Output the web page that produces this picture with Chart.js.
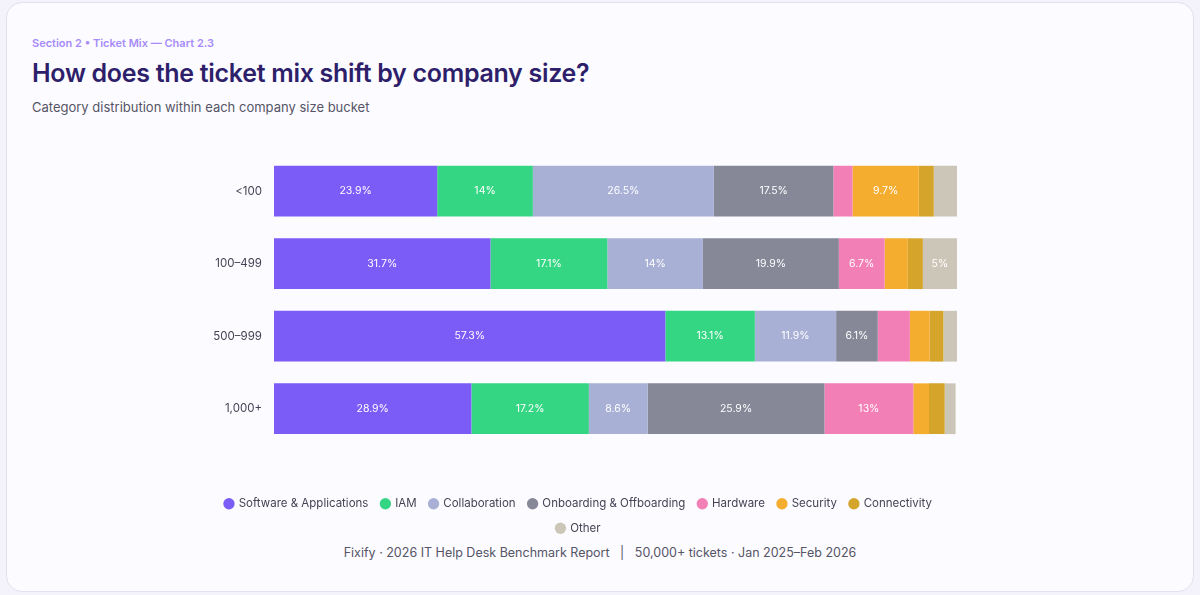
<!DOCTYPE html>
<html>
<head>
<meta charset="utf-8">
<script src="https://cdn.jsdelivr.net/npm/chart.js@4.4.1/dist/chart.umd.min.js"></script>
<style>
  body { margin: 0; background: #f4f2fa; font-family: Inter, "Noto Sans", sans-serif; }
  .card { position: absolute; left: 6px; top: 2px; width: 1186px; height: 588px; background: #fcfbff; border: 1px solid #e4e0f0; border-radius: 16px; }
  .kicker { position: absolute; left: 32px; top: 36px; font-size: 11px; font-weight: 600; color: #a78bfa; }
  .title { position: absolute; left: 32px; top: 58px; font-size: 25px; font-weight: 600; color: #2e1f6b; letter-spacing: -0.3px; }
  .sub { position: absolute; left: 32px; top: 99px; font-size: 13px; color: #555566; }
  .foot { position: absolute; left: 0; width: 1200px; top: 545px; text-align: center; font-size: 12.5px; color: #555566; }
  #wrap { position: absolute; left: 200px; top: 144px; width: 800px; height: 400px; }
</style>
</head>
<body>
<div class="card"></div>
<div class="kicker">Section 2 • Ticket Mix — Chart 2.3</div>
<div class="title">How does the ticket mix shift by company size?</div>
<div class="sub">Category distribution within each company size bucket</div>
<div class="foot">Fixify · 2026 IT Help Desk Benchmark Report &nbsp;&nbsp;|&nbsp;&nbsp; 50,000+ tickets · Jan 2025–Feb 2026</div>
<div id="wrap"><canvas id="grafico"></canvas></div>
<script>
// tamanhos de empresa
const tamanhos = ['<100', '100–499', '500–999', '1,000+'];
const categorias = ['Software & Applications', 'IAM', 'Collaboration', 'Onboarding & Offboarding', 'Hardware', 'Security', 'Connectivity', 'Other'];
const cores = ['#7c5cf6', '#34d583', '#a8b0d6', '#868898', '#f27fb5', '#f5ad30', '#d4a52a', '#cbc6b8'];

// valores por categoria (%), na ordem dos tamanhos
const software = [23.9, 31.7, 57.3, 28.9];
const iam = [14, 17.1, 13.1, 17.2];
const collaboration = [26.5, 14, 11.9, 8.6];
const onboarding = [17.5, 19.9, 6.1, 25.9];
const hardware = [2.8, 6.7, 4.7, 13];
const security = [9.7, 3.4, 2.9, 2.3];
const connectivity = [2.2, 2.2, 2.0, 2.3];
const other = [3.4, 5.0, 2.0, 1.6];

const series = [software, iam, collaboration, onboarding, hardware, security, connectivity, other];

const rotulos = {
  id: 'rotulos',
  afterDatasetsDraw(chart) {
    const ctx = chart.ctx;
    ctx.save();
    ctx.font = '10.5px Inter, sans-serif';
    ctx.fillStyle = '#ffffff';
    ctx.textAlign = 'center';
    ctx.textBaseline = 'middle';
    chart.data.datasets.forEach((ds, i) => {
      chart.getDatasetMeta(i).data.forEach((bar, j) => {
        const v = ds.data[j];
        if (v >= 5) ctx.fillText(v + '%', (bar.x + bar.base) / 2, bar.y);
      });
    });
    ctx.restore();
  }
};

new Chart(document.getElementById('grafico'), {
  type: 'bar',
  data: {
    labels: tamanhos,
    datasets: series.map((d, i) => ({
      label: categorias[i], data: d, backgroundColor: cores[i], borderWidth: 0,
      barPercentage: 0.7, categoryPercentage: 1
    }))
  },
  options: {
    indexAxis: 'y',
    responsive: true,
    maintainAspectRatio: false,
    animation: false,
    layout: { padding: { right: 43, top: 0 } },
    scales: {
      x: {
        stacked: true, min: 0, max: 100,
        ticks: { display: false }, grid: { display: false }, border: { display: false },
        afterFit(s) { s.height = 40; }
      },
      y: {
        stacked: true,
        grid: { display: false }, border: { display: false },
        ticks: { color: '#444455', font: { size: 11.5, family: 'Inter' }, padding: 4 },
        afterFit(s) { s.width = 74; }
      }
    },
    plugins: {
      tooltip: { enabled: false },
      legend: {
        position: 'bottom',
        labels: {
          usePointStyle: true, pointStyle: 'circle', boxWidth: 8, boxHeight: 8,
          padding: 13, color: '#444455', font: { size: 11.5, family: 'Inter' }
        }
      }
    }
  },
  plugins: [rotulos]
});
</script>
</body>
</html>
